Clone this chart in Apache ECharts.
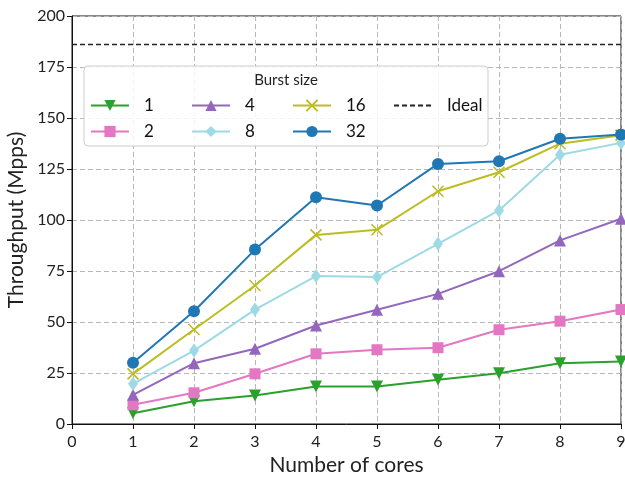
<!DOCTYPE html>
<html><head><meta charset="utf-8">
<script src="https://cdn.jsdelivr.net/npm/echarts@6/dist/echarts.min.js"></script>
<style>html,body{margin:0;padding:0;background:#fff}#c{width:625px;height:479px}</style>
</head><body><div id="c"></div>
<script>
const cores = [1,2,3,4,5,6,7,8,9];
const burst1  = [5.3, 11.2, 14.0, 18.4, 18.4, 21.7, 24.9, 29.8, 30.6];
const burst2  = [9.4, 15.3, 24.6, 34.4, 36.4, 37.4, 46.2, 50.4, 56.1];
const burst4  = [14.3, 29.8, 36.9, 48.3, 56.0, 63.8, 74.9, 90.0, 100.6];
const burst8  = [19.7, 36.0, 56.1, 72.5, 72.0, 88.3, 104.7, 132.0, 137.8];
const burst16 = [24.6, 46.3, 67.9, 92.7, 95.2, 114.1, 123.4, 137.4, 141.6];
const burst32 = [30.0, 55.3, 85.5, 111.2, 107.1, 127.5, 128.8, 139.8, 141.9];
const idealValue = 186;
const xTicks = [0,1,2,3,4,5,6,7,8,9];
const yTicks = [0,25,50,75,100,125,150,175,200];
const legendOrder = ['1','4','16','Ideal','\n','2','8','32'];

const FONT = 'Lato';
const pair = arr => cores.map((c,i)=>[c, arr[i]]);
function mk(name, data, color, symbol, size, extra){
  return Object.assign({
    name, type:'line', data:pair(data), symbol, symbolSize:size,
    lineStyle:{color, width:2}, itemStyle:{color}, z:3, animation:false
  }, extra||{});
}
const xPath = 'path://M0,0L10,10M10,0L0,10';
const series = [
  mk('1', burst1, '#2ca02c', 'triangle', 12, {symbolRotate:180}),
  mk('2', burst2, '#e377c2', 'rect', 11),
  mk('4', burst4, '#9467bd', 'triangle', 12),
  mk('8', burst8, '#9edae5', 'diamond', [10,14]),
  mk('16', burst16, '#bcbd22', xPath, 11, {itemStyle:{color:'#bcbd22', borderColor:'#bcbd22', borderWidth:1.6}}),
  mk('32', burst32, '#1f77b4', 'circle', 12),
  {name:'Ideal', type:'line', data:[[0,idealValue],[9,idealValue]], symbol:'circle', showSymbol:false,
   lineStyle:{color:'#222', width:1.6, type:[5,3]}, itemStyle:{color:'rgba(0,0,0,0)', borderWidth:0}, z:3, animation:false}
];
const chart = echarts.init(document.getElementById('c'), null, {renderer:'canvas'});
chart.setOption({
  animation:false,
  grid:{left:72, right:4, top:16, bottom:55, containLabel:false, outerBoundsMode:'none',
    show:true, borderColor:'#111', borderWidth:1},
  xAxis:{type:'value', min:0, max:9, interval:1,
    name:'Number of cores', nameLocation:'middle', nameGap:30,
    nameTextStyle:{fontFamily:FONT, fontSize:21, color:'#222'},
    axisLine:{show:true, onZero:false, lineStyle:{color:'#111'}},
    axisTick:{show:true, length:5, lineStyle:{color:'#111'}},
    axisLabel:{fontFamily:FONT, fontSize:16, color:'#222', margin:10, formatter:v=>xTicks.includes(v)?String(v):''},
    splitLine:{show:true, lineStyle:{color:'#b8b8b8', type:[5,3], width:1}}},
  yAxis:{type:'value', min:0, max:200, interval:25,
    name:'Throughput (Mpps)', nameLocation:'middle', nameGap:45,
    nameTextStyle:{fontFamily:FONT, fontSize:21, color:'#222'},
    axisLine:{show:true, onZero:false, lineStyle:{color:'#111'}},
    axisTick:{show:true, length:5, lineStyle:{color:'#111'}},
    axisLabel:{fontFamily:FONT, fontSize:16, color:'#222', margin:7, formatter:v=>yTicks.includes(v)?String(v):''},
    splitLine:{show:true, lineStyle:{color:'#b8b8b8', type:[5,3], width:1}}},
  legend:{data:legendOrder, orient:'horizontal', left:85, top:92, padding:5,
    itemWidth:38, itemHeight:14, itemGap:9,
    textStyle:{fontFamily:FONT, fontSize:17, lineHeight:14, width:38, color:'#111', padding:[0,0,0,10]},
    selectedMode:false, z:6},
  graphic:[
    {type:'rect', z:5, shape:{x:84, y:66, width:404, height:80, r:4},
     style:{fill:'rgba(255,255,255,0.85)', stroke:'#cccccc', lineWidth:1}},
    {type:'text', z:6, x:286, y:80, style:{text:'Burst size', fontFamily:FONT, fontSize:15, fill:'#222', align:'center', verticalAlign:'middle'}}
  ],
  series
});
</script></body></html>
